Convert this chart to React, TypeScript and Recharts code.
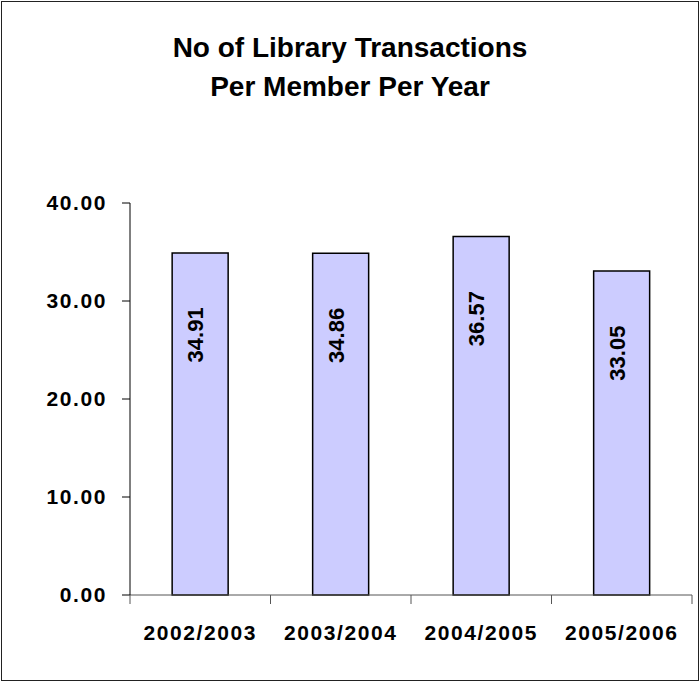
import { BarChart, Bar, XAxis, YAxis, LabelList } from 'recharts';

const categories = ['2002/2003', '2003/2004', '2004/2005', '2005/2006'];
const transactions = [34.91, 34.86, 36.57, 33.05];
const yTicks = [0, 10, 20, 30, 40];

const data = categories.map((name, i) => ({ name, value: transactions[i] }));

const FONT = '"Liberation Sans", Arial, sans-serif';

// category label with Excel-style tick marks on the band boundaries
const CategoryTick = (props: any) => {
  const { x, y, payload, index } = props;
  const half = payload && payload.offset ? payload.offset : 70;
  const axisY = y - 30;
  return (
    <g>
      <line x1={x - half} x2={x - half} y1={axisY} y2={axisY + 9} stroke="#555" />
      {index === categories.length - 1 && (
        <line x1={x + half} x2={x + half} y1={axisY} y2={axisY + 9} stroke="#555" />
      )}
      <text x={x} y={y} dy="0.71em" textAnchor="middle" fontFamily={FONT} fontWeight="bold" fontSize={21} letterSpacing={1.6} fill="#000">
        {payload.value}
      </text>
    </g>
  );
};

const BarValue = (props: any) => {
  const { x, y, width, value } = props;
  const cx = x + width / 2 + 3;
  const cy = y + 82;
  return (
    <text x={cx} y={cy} transform={`rotate(-90, ${cx}, ${cy})`} textAnchor="middle" fontFamily={FONT} fontWeight="bold" fontSize={22} fill="#000">
      {Number(value).toFixed(2)}
    </text>
  );
};

export default function App() {
  return (
    <div style={{ position: 'absolute', left: 0, top: 0, width: 700, height: 682, background: '#fff', fontFamily: FONT }}>
      <div style={{ position: 'absolute', left: 1, top: 1, width: 696, height: 678, border: '1px solid #222' }} />
      <div style={{ position: 'absolute', left: 0, top: 28, width: 700, textAlign: 'center', fontWeight: 'bold', fontSize: 28, lineHeight: '39px', color: '#000' }}>
        No of Library Transactions
        <br />
        Per Member Per Year
      </div>
      <div style={{ position: 'absolute', left: 0, top: 0 }}>
        <BarChart width={700} height={682} data={data} margin={{ top: 203, right: 8, bottom: 0, left: 0 }} barCategoryGap="30%">
          <XAxis
            dataKey="name"
            height={87}
            axisLine={{ stroke: '#555' }}
            tickLine={false}
            tickSize={9}
            tickMargin={21}
            tick={<CategoryTick />}
            interval={0}
          />
          <XAxis xAxisId="top" orientation="top" dataKey="name" height={0} tick={false} tickLine={false} axisLine={{ stroke: '#808080' }} />
          <YAxis
            domain={[0, 40]}
            ticks={yTicks}
            width={130}
            axisLine={{ stroke: '#000' }}
            tickLine={{ stroke: '#000' }}
            tickSize={8}
            tickMargin={15}
            tickFormatter={(v: number) => v.toFixed(2)}
            tick={{ fill: '#000', fontFamily: FONT, fontWeight: 'bold', fontSize: 21, letterSpacing: 1.6 }}
          />
          <YAxis yAxisId="right" orientation="right" domain={[0, 40]} width={0} tick={false} tickLine={false} axisLine={{ stroke: '#808080' }} />
          <Bar dataKey="value" fill="#CCCCFF" stroke="#000" strokeWidth={1.5} isAnimationActive={false}>
            <LabelList dataKey="value" content={<BarValue />} />
          </Bar>
        </BarChart>
      </div>
    </div>
  );
}
